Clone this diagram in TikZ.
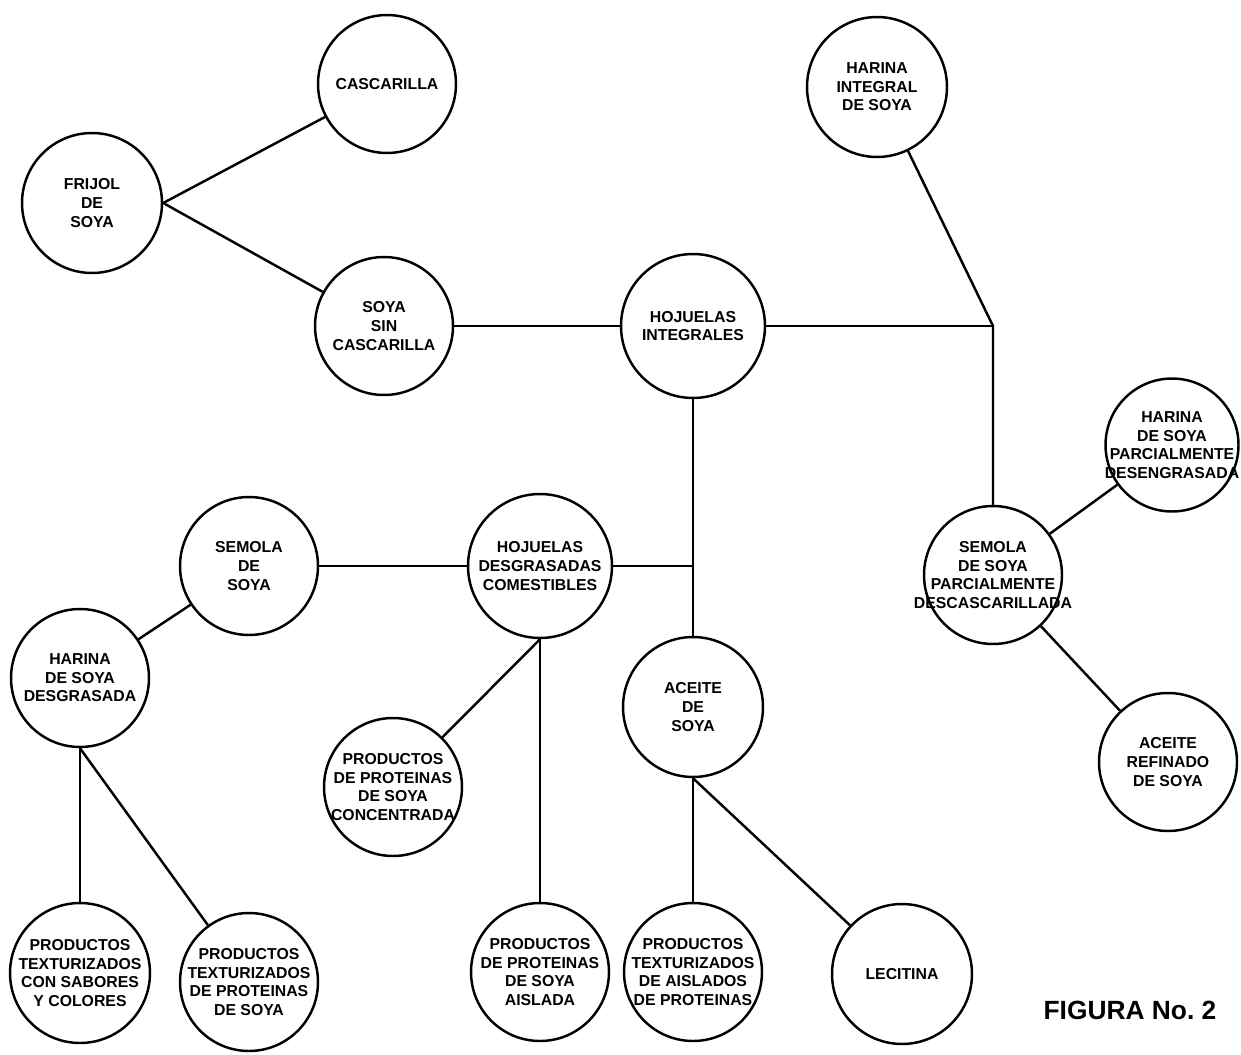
\documentclass[tikz,border=0pt]{standalone}
\usepackage{fontspec}
\setsansfont{Liberation Sans}

\begin{document}
\begin{tikzpicture}[
    x=0.02cm, y=-0.02cm,
    producto/.style={circle, draw, line width=1.4pt, minimum size=2.76cm, inner sep=0pt},
    grande/.style={producto, minimum size=2.88cm},
    rotulo/.style={align=center, inner sep=0pt, font=\sffamily\bfseries\fontsize{9}{10.6}\selectfont},
    enlace/.style={line width=1.4pt}
]
\useasboundingbox[fill=white] (0,0) rectangle (1241,1055);

\node[producto, label={[rotulo]center:CASCARILLA}] (cascarilla) at (387,84) {};
\node[producto, minimum size=2.8cm, label={[rotulo]center:FRIJOL\\DE\\SOYA}] (frijol) at (92,203) {};
\node[producto, label={[rotulo]center:SOYA\\SIN\\CASCARILLA}] (sincasc) at (384,326) {};
\node[grande, label={[rotulo]center:HOJUELAS\\INTEGRALES}] (hojint) at (693,326) {};
\node[producto, minimum size=2.8cm, label={[rotulo]center:HARINA\\INTEGRAL\\DE SOYA}] (harint) at (877,87) {};
\node[producto, minimum size=2.66cm, label={[rotulo]center:HARINA\\DE SOYA\\PARCIALMENTE\\DESENGRASADA}] (harpar) at (1172,445) {};
\node[producto, label={[rotulo]center:SEMOLA\\DE SOYA\\PARCIALMENTE\\DESCASCARILLADA}] (sempar) at (993,575) {};
\node[producto, label={[rotulo]center:ACEITE\\REFINADO\\DE SOYA}] (aceref) at (1168,762) {};

\node[producto, label={[rotulo]center:SEMOLA\\DE\\SOYA}] (semsoy) at (249,566) {};
\node[grande, label={[rotulo]center:HOJUELAS\\DESGRASADAS\\COMESTIBLES}] (hojdes) at (540,566) {};
\node[producto, label={[rotulo]center:HARINA\\DE SOYA\\DESGRASADA}] (hardes) at (80,678) {};
\node[producto, minimum size=2.8cm, label={[rotulo]center:ACEITE\\DE\\SOYA}] (acesoy) at (693,707) {};
\node[producto, label={[rotulo]center:PRODUCTOS\\DE PROTEINAS\\DE SOYA\\CONCENTRADA}] (prodcon) at (393,787) {};

\node[producto, minimum size=2.8cm, label={[rotulo]center:PRODUCTOS\\TEXTURIZADOS\\CON SABORES\\Y COLORES}] (prodsab) at (80,973) {};
\node[producto, label={[rotulo]center:PRODUCTOS\\TEXTURIZADOS\\DE PROTEINAS\\DE SOYA}] (prodtex) at (249,982) {};
\node[producto, label={[rotulo]center:PRODUCTOS\\DE PROTEINAS\\DE SOYA\\AISLADA}] (prodais) at (540,972) {};
\node[producto, label={[rotulo]center:PRODUCTOS\\TEXTURIZADOS\\DE AISLADOS\\DE PROTEINAS}] (prodtexais) at (693,972) {};
\node[producto, minimum size=2.8cm, label={[rotulo]center:LECITINA}] (lecitina) at (902,974) {};

\node[font=\sffamily\bfseries\fontsize{15}{18}\selectfont] (figura) at (1130,1010) {FIGURA No.\ 2};

\coordinate (cruce) at (993,326);
\coordinate (union) at (693,566);

\draw[enlace] (frijol.east) -- (cascarilla);
\draw[enlace] (frijol.east) -- (sincasc);
\draw[enlace] (sincasc) -- (hojint);
\draw[enlace] (hojint) -- (cruce);
\draw[enlace] (harint) -- (cruce) -- (sempar);
\draw[enlace] (sempar) -- (harpar);
\draw[enlace] (sempar) -- (aceref);
\draw[enlace] (hojint) -- (acesoy);
\draw[enlace] (hojdes) -- (union);
\draw[enlace] (semsoy) -- (hojdes);
\draw[enlace] (semsoy) -- (hardes);
\draw[enlace] (hardes.south) -- (prodsab);
\draw[enlace] (hardes.south) -- (prodtex);
\draw[enlace] (hojdes.south) -- (prodcon);
\draw[enlace] (hojdes.south) -- (prodais);
\draw[enlace] (acesoy.south) -- (prodtexais);
\draw[enlace] (acesoy.south) -- (lecitina);
\end{tikzpicture}
\end{document}
